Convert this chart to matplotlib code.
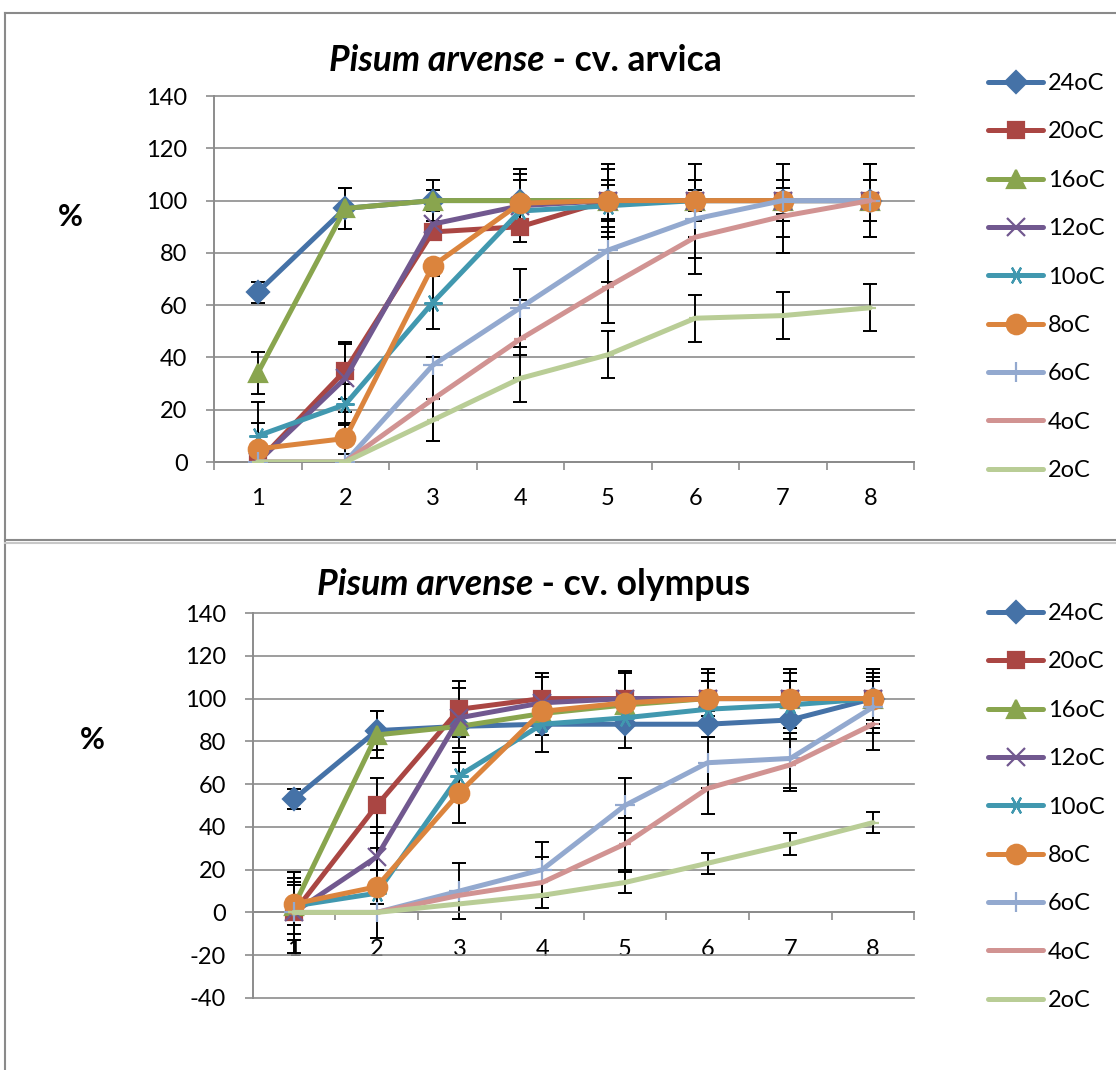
import numpy as np
import matplotlib.pyplot as plt
from matplotlib.lines import Line2D

plt.rcParams['font.family'] = ['Lato', 'DejaVu Sans']
plt.rcParams['axes.unicode_minus'] = False

days = [1, 2, 3, 4, 5, 6, 7, 8]
temps = ['24oC', '20oC', '16oC', '12oC', '10oC', '8oC', '6oC', '4oC', '2oC']

# cv. arvica (%), one row per temperature
arvica = [
    [65, 97, 100, 100, 100, 100, 100, 100],
    [0, 35, 88, 90, 100, 100, 100, 100],
    [34, 97, 100, 100, 100, 100, 100, 100],
    [0, 32, 91, 98, 100, 100, 100, 100],
    [10, 22, 61, 96, 98, 100, 100, 100],
    [5, 9, 75, 99, 100, 100, 100, 100],
    [0, 0, 37, 59, 81, 93, 100, 100],
    [0, 0, 24, 47, 67, 86, 94, 100],
    [0, 0, 16, 32, 41, 55, 56, 59],
]
arvica_err = [
    [4, 8, 4, 12, 14, 14, 14, 14],
    [0, 11, 0, 6, 12, 8, 5, 14],
    [8, 8, 8, 10, 8, 8, 8, 8],
    [0, 13, 0, 0, 0, 4, 8, 0],
    [13, 8, 10, 0, 8, 0, 0, 0],
    [10, 6, 0, 9, 0, 0, 0, 0],
    [0, 0, 0, 15, 12, 15, 0, 0],
    [0, 0, 16, 15, 14, 14, 14, 0],
    [0, 0, 8, 9, 9, 9, 9, 9],
]

# cv. olympus (%)
olympus = [
    [53, 85, 87, 88, 88, 88, 90, 100],
    [0, 50, 95, 100, 100, 100, 100, 100],
    [3, 83, 87, 93, 97, 100, 100, 100],
    [0, 26, 91, 98, 100, 100, 100, 100],
    [3, 9, 64, 88, 91, 95, 97, 100],
    [4, 12, 56, 94, 98, 100, 100, 100],
    [0, 0, 10, 20, 50, 70, 72, 96],
    [0, 0, 8, 14, 32, 58, 69, 88],
    [0, 0, 4, 8, 14, 23, 32, 42],
]
olympus_err = [
    [4.5, 9, 0, 13, 11, 6, 6, 14],
    [19, 13, 13, 12, 13, 14, 14, 14],
    [16, 11, 0, 0, 0, 8, 8, 12],
    [13, 14, 14, 12, 12, 12, 12, 10],
    [13, 21, 11, 5, 0, 0, 0, 0],
    [10, 8, 14, 0, 0, 0, 0, 0],
    [0, 0, 13, 13, 13, 12, 14, 12],
    [0, 0, 0, 12, 12, 12, 12, 12],
    [0, 0, 0, 0, 5, 5, 5, 5],
]

colors = ['#4572A7', '#AA4643', '#89A54E', '#71588F', '#4198AF',
          '#DB843D', '#93A9CF', '#D19392', '#B9CD96']
markers = ['D', 's', '^', 'x', (6, 2, 90), 'o', '+', '_', '_']
msizes = [11, 12, 13, 13, 13, 14, 15, 8, 8]

grid_col = '#8c8c8c'
W, H = 1116, 1070

fig = plt.figure(figsize=(W / 100, H / 100), dpi=100)


def draw_panel(ax, data, errs, ylo, title, tx, ty, tsize, pct_xy, leg_top):
    ax.set_xlim(0.5, 8.5)
    ax.set_ylim(ylo, 140)
    ax.set_yticks(np.arange(ylo, 141, 20))
    ax.yaxis.grid(True, color=grid_col, lw=1.2, zorder=0)
    ax.set_axisbelow(True)
    for gl in ax.get_ygridlines():
        gl.set_clip_on(False)

    for i, (vals, e) in enumerate(zip(data, errs)):
        e = np.array(e, dtype=float)
        e[e == 0] = np.nan
        ax.errorbar(days, vals, yerr=e, fmt='none', ecolor='black',
                    elinewidth=1.4, capsize=5, capthick=1.4, zorder=2.5)
    for i, vals in enumerate(data):
        ax.plot(days, vals, color=colors[i], lw=3.6, marker=markers[i],
                ms=msizes[i], mec=colors[i], mfc=colors[i], mew=1.6,
                label=temps[i], zorder=3 + i * 0.1, solid_capstyle='round')

    for s in ['top', 'right']:
        ax.spines[s].set_visible(False)
    for s in ['left', 'bottom']:
        ax.spines[s].set_color(grid_col)
        ax.spines[s].set_linewidth(1.4)
    ax.spines['bottom'].set_position(('data', 0))

    ax.set_xticks(days)
    ax.set_xticks(np.arange(0.5, 8.6, 1), minor=True)
    ax.tick_params(axis='x', which='major', length=0, pad=19, labelsize=17)
    ax.tick_params(axis='x', which='minor', length=6, width=1.2,
                   color=grid_col, direction='out')
    ax.tick_params(axis='y', length=6, width=1.2, color=grid_col,
                   pad=13, labelsize=17)

    t1 = fig.text(tx, ty, 'Pisum arvense', fontsize=tsize, fontweight='bold',
                  style='italic', va='baseline')
    ax.annotate(' - cv. ' + title, xy=(1, 0), xycoords=t1, va='bottom',
                fontsize=tsize, fontweight='bold')
    fig.text(pct_xy[0], pct_xy[1], '%', fontsize=22, fontweight='bold',
             ha='center', va='center')

    ax.legend(loc='upper left', bbox_to_anchor=(988 / W, leg_top),
              bbox_transform=fig.transFigure, frameon=False, borderpad=0,
              borderaxespad=0, handlelength=2.33, handletextpad=0.2,
              labelspacing=1.16, fontsize=17, numpoints=1)


ax1 = fig.add_axes([214 / W, 1 - 462 / H, 700 / W, 366 / H])
draw_panel(ax1, arvica, arvica_err, 0, 'arvica', 329 / W, 1 - 71 / H, 25.6,
           (70 / W, 1 - 217 / H), 1 - 73 / H)

ax2 = fig.add_axes([252.6 / W, 1 - 998 / H, 661.8 / W, 385 / H])
draw_panel(ax2, olympus, olympus_err, -40, 'olympus', 317 / W, 1 - 595 / H, 25.7,
           (92 / W, 1 - 740 / H), 1 - 603 / H)

# chart area frames
frame = '#8a8a8a'
fig.add_artist(Line2D([5 / W, 5 / W], [0, 1 - 13 / H], color=frame, lw=1.5))
fig.add_artist(Line2D([5 / W, 1], [1 - 13 / H, 1 - 13 / H], color=frame, lw=1.5))
fig.add_artist(Line2D([5 / W, 1], [1 - 540 / H, 1 - 540 / H], color=frame, lw=1.5))
fig.add_artist(Line2D([5 / W, 1], [1 - 542.5 / H, 1 - 542.5 / H], color='#c8c8c8', lw=1.5))

fig.savefig('out.png', dpi=100)
